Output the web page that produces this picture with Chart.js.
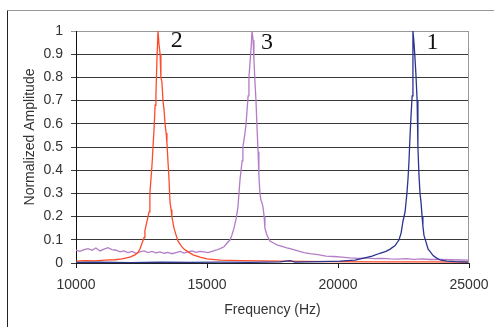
<!DOCTYPE html>
<html>
<head>
<meta charset="utf-8">
<script src="https://cdn.jsdelivr.net/npm/chart.js@4"></script>
<style>
  html, body { margin: 0; padding: 0; background: #fff; }
  #wrap { width: 494px; height: 327px; }
</style>
</head>
<body>
<div id="wrap"><canvas id="chart" width="494" height="327"></canvas></div>
<script>
// Resonance 1 (blue), frequency in Hz and normalized amplitude
const freq1 = [10000, 10920, 12060, 13210, 14350, 15500, 16640, 17790, 18170, 18360, 19310, 20080, 20650, 21030, 21300, 21600, 21830, 21990, 22180, 22330, 22410, 22480, 22560, 22630, 22670, 22710, 22750, 22790, 22830, 22860, 22900, 22940, 22980, 23020, 23050, 23090, 23130, 23170, 23210, 23240, 23280, 23360, 23440, 23510, 23630, 23780, 23930, 24160, 24470, 24730, 25000];
const amp1 = [0.003, 0.004, 0.002, 0.004, 0.003, 0.004, 0.003, 0.005, 0.01, 0.004, 0.006, 0.008, 0.012, 0.022, 0.03, 0.042, 0.05, 0.06, 0.075, 0.1, 0.13, 0.18, 0.22, 0.3, 0.36, 0.44, 0.55, 0.64, 0.72, 1.0, 0.95, 0.88, 0.8, 0.7, 0.5, 0.38, 0.3, 0.26, 0.2, 0.16, 0.12, 0.09, 0.06, 0.05, 0.032, 0.02, 0.012, 0.008, 0.006, 0.005, 0.004];

// Resonance 2 (red)
const freq2 = [10000, 10340, 10730, 11110, 11490, 11760, 12060, 12250, 12370, 12440, 12520, 12600, 12630, 12670, 12750, 12790, 12820, 12860, 12900, 12940, 12980, 13020, 13050, 13090, 13130, 13170, 13210, 13240, 13280, 13320, 13360, 13400, 13440, 13470, 13510, 13550, 13590, 13630, 13660, 13740, 13820, 13890, 14010, 14120, 14280, 14470, 14730, 15000, 15500, 16260, 17790, 19700, 21600, 23510, 25000];
const amp2 = [0.008, 0.01, 0.009, 0.012, 0.014, 0.018, 0.025, 0.035, 0.045, 0.06, 0.085, 0.11, 0.14, 0.16, 0.2, 0.22, 0.3, 0.36, 0.42, 0.5, 0.58, 0.68, 0.72, 0.88, 1.0, 0.94, 0.9, 0.8, 0.78, 0.7, 0.66, 0.6, 0.56, 0.52, 0.44, 0.36, 0.26, 0.23, 0.2, 0.15, 0.12, 0.095, 0.075, 0.06, 0.048, 0.035, 0.025, 0.018, 0.012, 0.01, 0.008, 0.006, 0.005, 0.005, 0.004];

// Resonance 3 (purple)
const freq3 = [10000, 10150, 10310, 10460, 10610, 10760, 10920, 11070, 11220, 11370, 11530, 11680, 11830, 11980, 12140, 12290, 12440, 12600, 12750, 12900, 13050, 13210, 13360, 13510, 13660, 13820, 13970, 14120, 14270, 14430, 14580, 14730, 14890, 15040, 15190, 15340, 15500, 15650, 15760, 15880, 15950, 16030, 16110, 16180, 16220, 16260, 16300, 16340, 16370, 16410, 16450, 16490, 16530, 16570, 16600, 16640, 16680, 16720, 16760, 16790, 16830, 16870, 16910, 16950, 16980, 17020, 17060, 17100, 17140, 17180, 17210, 17290, 17400, 17560, 17670, 17860, 18050, 18240, 18470, 18700, 18930, 19240, 19540, 19850, 20150, 20460, 20760, 21070, 21370, 21680, 21990, 22290, 22600, 22900, 23210, 23510, 23890, 24280, 24660, 25000];
const amp3 = [0.055, 0.05, 0.058, 0.062, 0.055, 0.065, 0.052, 0.06, 0.066, 0.058, 0.055, 0.048, 0.052, 0.045, 0.05, 0.042, 0.048, 0.052, 0.045, 0.05, 0.044, 0.048, 0.042, 0.046, 0.04, 0.045, 0.05, 0.043, 0.048, 0.052, 0.046, 0.05, 0.048, 0.045, 0.05, 0.055, 0.062, 0.07, 0.085, 0.1, 0.12, 0.15, 0.19, 0.24, 0.3, 0.36, 0.4, 0.44, 0.5, 0.53, 0.56, 0.6, 0.66, 0.72, 0.8, 0.86, 0.92, 1.0, 0.96, 0.88, 0.78, 0.7, 0.58, 0.48, 0.38, 0.3, 0.27, 0.26, 0.24, 0.2, 0.15, 0.12, 0.095, 0.085, 0.078, 0.072, 0.065, 0.06, 0.052, 0.045, 0.04, 0.036, 0.03, 0.028, 0.025, 0.022, 0.02, 0.022, 0.019, 0.02, 0.018, 0.017, 0.019, 0.016, 0.018, 0.015, 0.016, 0.014, 0.013, 0.012];

// peak numbers written next to each resonance
const peakNames = ['1', '2', '3'];
const peakLabelX = [23610, 13850, 17290];
const peakLabelY = [0.95, 0.96, 0.95];

const xTicks = [10000, 15000, 20000, 25000];

function toPoints(xs, ys) {
    return xs.map((x, i) => ({ x: x, y: ys[i] }));
}

// outer frame, plot border, y title and peak numbers
const decorations = {
    id: 'decorations',
    afterDraw(chart) {
        const ctx = chart.ctx;
        const a = chart.chartArea;
        const xs = chart.scales.x, ys = chart.scales.y;
        ctx.save();
        ctx.lineWidth = 1;
        ctx.strokeStyle = '#999';
        ctx.beginPath();
        ctx.moveTo(7.5, 10.5); ctx.lineTo(494, 10.5);
        ctx.moveTo(a.right - 0.5, a.top); ctx.lineTo(a.right - 0.5, a.bottom);
        ctx.stroke();
        ctx.strokeStyle = '#222';
        ctx.beginPath();
        ctx.moveTo(7.5, 10.5); ctx.lineTo(7.5, 327);
        ctx.stroke();

        ctx.fillStyle = '#333';
        ctx.font = '14px "Liberation Sans", Arial, sans-serif';
        ctx.textAlign = 'center';
        ctx.textBaseline = 'middle';
        ctx.translate(30, 137);
        ctx.rotate(-Math.PI / 2);
        ctx.fillText('Normalized Amplitude', 0, 0);
        ctx.restore();

        ctx.save();
        ctx.fillStyle = '#111';
        ctx.font = '24px "Liberation Serif", "Times New Roman", serif';
        ctx.textAlign = 'center';
        ctx.textBaseline = 'middle';
        peakNames.forEach((name, i) => {
            ctx.fillText(name, xs.getPixelForValue(peakLabelX[i]), ys.getPixelForValue(peakLabelY[i]));
        });
        ctx.restore();
    }
};

const ctx = document.getElementById('chart').getContext('2d');
new Chart(ctx, {
    type: 'line',
    data: {
        datasets: [
            { label: '1', data: toPoints(freq1, amp1), borderColor: '#2a3590', borderWidth: 1.3 },
            { label: '2', data: toPoints(freq2, amp2), borderColor: '#ff4a2a', borderWidth: 1.3 },
            { label: '3', data: toPoints(freq3, amp3), borderColor: '#b47cc6', borderWidth: 1.3 }
        ]
    },
    options: {
        responsive: false,
        animation: false,
        events: [],
        layout: { padding: { top: 31, right: 25, left: 0, bottom: 0 } },
        elements: { point: { radius: 0 }, line: { tension: 0, fill: false } },
        plugins: { legend: { display: false }, tooltip: { enabled: false } },
        scales: {
            x: {
                type: 'linear',
                min: 10000,
                max: 25000,
                afterBuildTicks: scale => { scale.ticks = xTicks.map(v => ({ value: v })); },
                afterFit: scale => { scale.height = 64; scale.paddingRight = 0; scale.paddingLeft = 0; },
                grid: { drawOnChartArea: false, drawTicks: true, tickLength: 5, color: '#222' },
                border: { color: '#222', width: 1 },
                ticks: {
                    padding: 9,
                    color: '#333',
                    font: { family: '"Liberation Sans", Arial, sans-serif', size: 14 },
                    callback: v => String(v),
                    maxRotation: 0
                },
                title: {
                    display: true,
                    text: 'Frequency (Hz)',
                    color: '#333',
                    font: { family: '"Liberation Sans", Arial, sans-serif', size: 14 },
                    padding: { top: 0, bottom: 8 }
                }
            },
            y: {
                min: 0,
                max: 1,
                afterFit: scale => { scale.width = 76; scale.paddingTop = 0; scale.paddingBottom = 0; },
                grid: {
                    tickLength: 5,
                    color: c => (c.tick && c.tick.value === 1) ? '#999' : '#3a3a3a',
                    lineWidth: 1
                },
                border: { color: '#111', width: 1 },
                ticks: {
                    stepSize: 0.1,
                    padding: 8,
                    color: '#333',
                    font: { family: '"Liberation Sans", Arial, sans-serif', size: 14 },
                    callback: v => String(Math.round(v * 10) / 10)
                }
            }
        }
    },
    plugins: [decorations]
});
</script>
</body>
</html>
